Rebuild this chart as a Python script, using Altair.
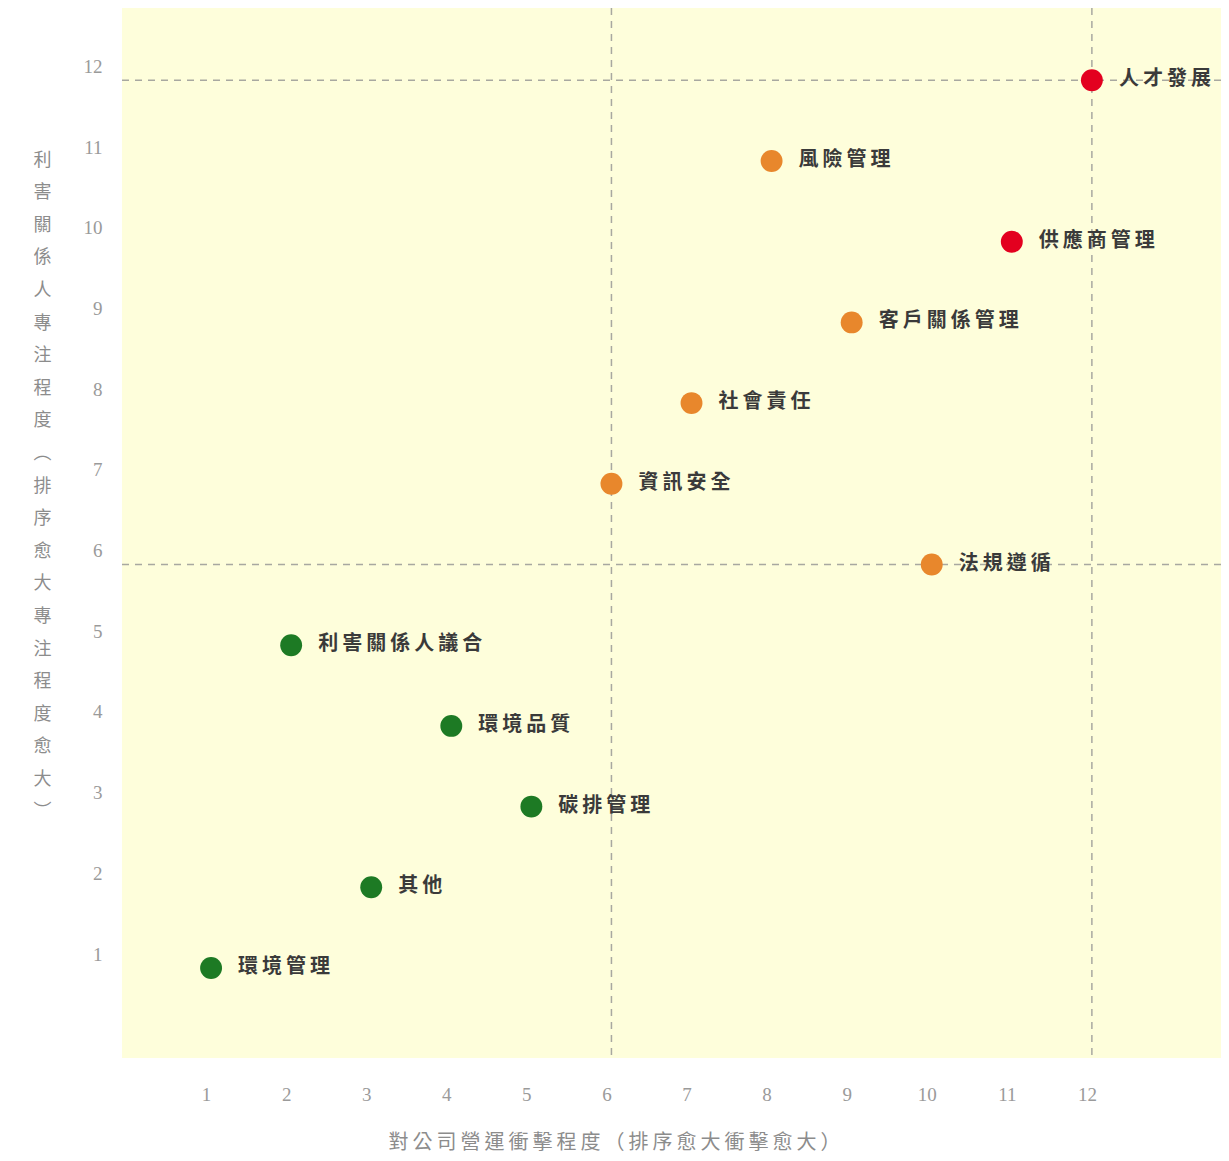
import altair as alt
import pandas as pd

topics = ["人才發展", "風險管理", "供應商管理", "客戶關係管理", "社會責任", "資訊安全",
          "法規遵循", "利害關係人議合", "環境品質", "碳排管理", "其他", "環境管理"]
impact_rank = [12, 8, 11, 9, 7, 6, 10, 2, 4, 5, 3, 1]
concern_rank = [12, 11, 10, 9, 8, 7, 6, 5, 4, 3, 2, 1]
level = ["高", "中", "高", "中", "中", "中", "中", "低", "低", "低", "低", "低"]

level_names = ["高", "中", "低"]
level_colors = ["#e3001f", "#e8872c", "#1d7a24"]

x_lines = [6, 12]
y_lines = [6, 12]
ticks = list(range(1, 13))

x_title = "對公司營運衝擊程度（排序愈大衝擊愈大）"
y_title = list("利害關係人專注程度") + ["︵"] + list("排序愈大專注程度愈大") + ["︶"]

SP = "\u2009"  # thin space used as letter spacing
df = pd.DataFrame({"topic": topics, "x": impact_rank, "y": concern_rank, "level": level})
df["shown"] = df["topic"].map(lambda s: SP.join(s))
vdf = pd.DataFrame({"v": x_lines})
hdf = pd.DataFrame({"v": y_lines})

xs = alt.Scale(domain=[-0.1125, 13.6125], nice=False, zero=False)
ys = alt.Scale(domain=[-0.115, 12.896], nice=False, zero=False)

x_axis = alt.Axis(values=ticks, format="d", title=SP.join(x_title), grid=False, ticks=False, domain=False,
                  labelFont="Liberation Serif", labelFontSize=19, labelColor="#9a9a9a",
                  labelPadding=27, labelOffset=-5,
                  titleFont="Noto Sans CJK TC", titleFontSize=20, titleColor="#8c8c8c",
                  titleFontWeight="normal", titleX=492, titleY=74, titleBaseline="top",
                  titleAlign="center")
y_axis = alt.Axis(values=ticks, format="d", title=y_title, grid=False, ticks=False, domain=False,
                  labelFont="Liberation Serif", labelFontSize=19, labelColor="#9a9a9a",
                  labelPadding=20, labelOffset=-14,
                  titleFont="Noto Sans CJK TC", titleFontSize=18, titleColor="#8c8c8c",
                  titleFontWeight="normal", titleAngle=0, titleX=-80, titleY=143,
                  titleBaseline="top", titleAlign="center", titleLineHeight=32.6)

vrules = alt.Chart(vdf).mark_rule(color="#a8a8a0", strokeDash=[7, 6], strokeWidth=1.5).encode(
    x=alt.X("v:Q", scale=xs, axis=x_axis)
)
hrules = alt.Chart(hdf).mark_rule(color="#a8a8a0", strokeDash=[7, 6], strokeWidth=1.5).encode(
    y=alt.Y("v:Q", scale=ys, axis=y_axis)
)

pts = alt.Chart(df).mark_circle(size=480, opacity=1).encode(
    x=alt.X("x:Q", scale=xs),
    y=alt.Y("y:Q", scale=ys),
    color=alt.Color("level:N", scale=alt.Scale(domain=level_names, range=level_colors), legend=None),
)
labels = alt.Chart(df).mark_text(align="left", baseline="middle", dx=27, dy=-1,
                                 font="Noto Sans CJK TC", fontSize=20, fontWeight="bold",
                                 color="#3a3a3a").encode(
    x=alt.X("x:Q", scale=xs),
    y=alt.Y("y:Q", scale=ys),
    text="shown:N",
)

chart = alt.layer(vrules, hrules, pts, labels).properties(
    width=1099, height=1050,
    autosize=alt.AutoSizeParams(type="none"),
    padding={"left": 114, "top": 0, "right": 0, "bottom": 95},
).configure(background="#ffffff").configure_view(fill="#fefedb", stroke=None)

chart.save("out.html", embed_options={"renderer": "svg", "actions": False})
